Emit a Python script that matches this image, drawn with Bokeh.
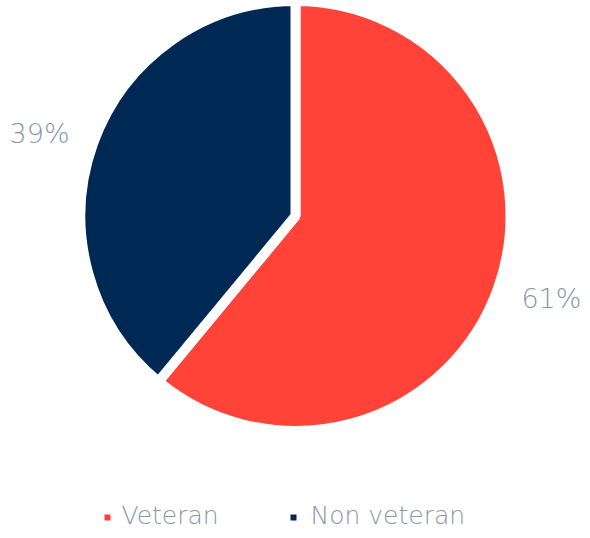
import numpy as np
from bokeh.plotting import figure
from bokeh.models import Range1d, ColumnDataSource
from bokeh.core.properties import value
from bokeh.embed import file_html
from bokeh.resources import INLINE

categories = ["Veteran", "Non veteran"]
shares = [61, 39]
colors = ["#FF4338", "#002855"]
label_color = "#8B96A3"
FONT = "DejaVu Sans Light"

W, H = 582, 530
p = figure(width=W, height=H, output_backend="svg", toolbar_location=None,
           x_range=Range1d(0, 582), y_range=Range1d(8, 538), min_border=0)
p.axis.visible = False
p.grid.visible = False
p.outline_line_color = None
p.background_fill_color = "white"
p.border_fill_color = "white"

# data y = 538 - screen y
cx, cy, R = 295, 538 - 215.5, 215
vals = np.array(shares, dtype=float)
frac = vals / vals.sum()
ang = frac * 2 * np.pi
top = np.pi / 2
starts, ends = [], []
cur = top
for a in ang:
    starts.append(cur - a)
    ends.append(cur)
    cur = cur - a
src = ColumnDataSource(dict(start=starts, end=ends, color=colors, cat=categories))
p.wedge(x=cx, y=cy, radius=R, start_angle="start", end_angle="end",
        fill_color="color", line_color="white", line_width=10, source=src)

mid = (np.array(starts) + np.array(ends)) / 2
# labels pulled slightly toward the horizontal
horiz = np.where(np.cos(mid) >= 0, 0.0, np.pi)
lab_ang = horiz + 0.9 * np.angle(np.exp(1j * (mid - horiz)))
lr = 1.28 * (R - 5)
lx = cx + lr * np.cos(lab_ang)
ly = cy + lr * np.sin(lab_ang)
labels = [f"{int(v)}%" for v in shares]
p.text(x=lx, y=ly, text=labels, text_font=value(FONT), text_font_size="27px",
       text_color=label_color, text_align="center", text_baseline="middle")

# legend
mx = [107, 293]
tx = [121, 310]
p.scatter(x=mx, y=[538 - 517] * 2, marker="square", size=6, fill_color=colors, line_color=None)
p.text(x=tx, y=[538 - 515] * 2, text=categories, text_font=value(FONT), text_font_size="25px",
       text_color=label_color, text_align="left", text_baseline="middle")

open("out.html", "w").write(file_html(p, INLINE))
